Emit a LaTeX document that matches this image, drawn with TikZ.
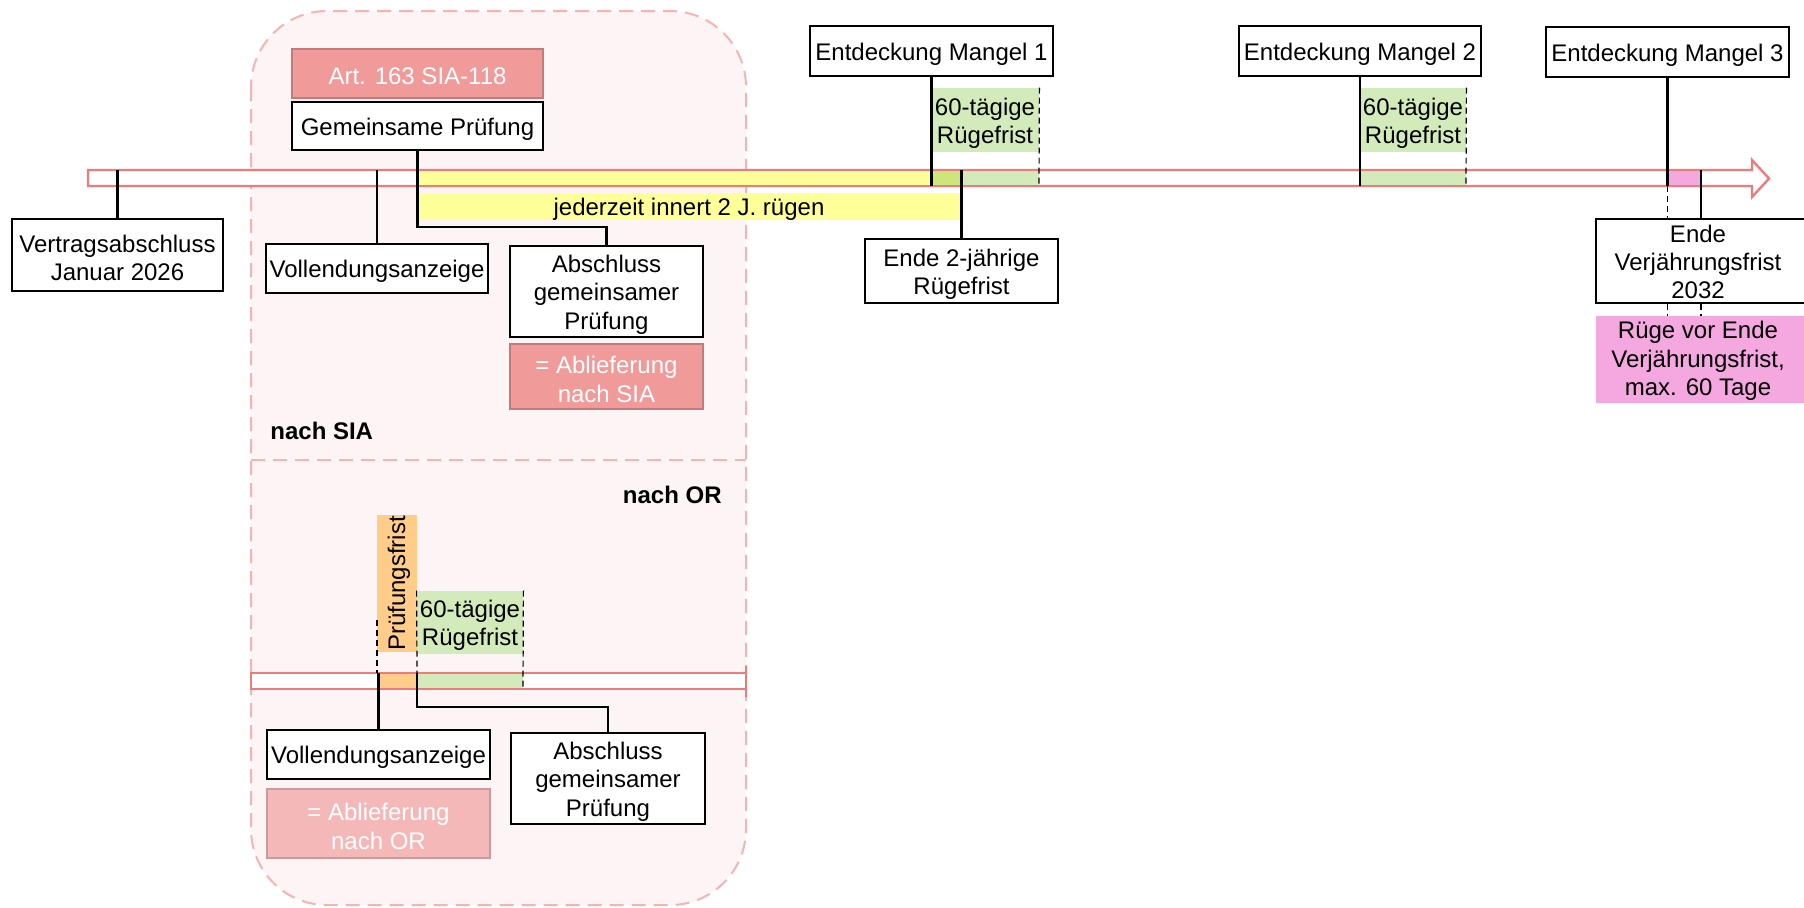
\documentclass[tikz,border=0pt]{standalone}
\usepackage{fontspec}
\setmainfont{Liberation Sans}
\definecolor{tl}{HTML}{EE7B7B}
\definecolor{contfill}{HTML}{FDF5F5}
\definecolor{contline}{HTML}{F5B3B3}
\definecolor{artfill}{HTML}{F09A9A}
\definecolor{artline}{HTML}{C27A7A}
\definecolor{orfill}{HTML}{F5B8B8}
\definecolor{orline}{HTML}{CC9A9A}
\definecolor{grn}{HTML}{D3EBBA}
\definecolor{ylw}{HTML}{FFFF99}
\definecolor{ylgr}{HTML}{CDE67C}
\definecolor{org}{HTML}{FFCC8A}
\definecolor{pnk}{HTML}{F5A8E0}
\newcommand\pxbox[7]{%
  \node[#2, minimum width={(#5-#3)*0.5pt}, minimum height={(#6-#4)*0.5pt}] (#1) at ({(#3+#5)/2},{(#4+#6)/2}) {};
  \node[#2, draw=none, fill=none, inner sep=0pt] (#1-t) at ({(#3+#5)/2},{(#4+#6)/2+3}) {#7};}
\begin{document}
\begin{tikzpicture}[x=0.5pt,y=-0.5pt,
  font=\fontsize{12}{14.2}\selectfont,
  bx/.style={draw=black, line width=1.2pt, fill=white, inner sep=0pt, align=center},
  artbx/.style={draw=artline, line width=1pt, fill=artfill, text=white, inner sep=0pt, align=center},
  orbx/.style={draw=orline, line width=1pt, fill=orfill, text=white, inner sep=0pt, align=center},
  fillbx/.style={inner sep=0pt, align=center},
  conn/.style={draw=black, line width=1.1pt},
  dsh/.style={draw=black, line width=0.6pt, dash pattern=on 3pt off 2pt},
  tline/.style={draw=tl, line width=1.2pt},
  bold/.style={font=\fontsize{12}{14}\selectfont\bfseries}]
\useasboundingbox (0,0) rectangle (1804,907);
% container
\draw[contline, fill=contfill, line width=1pt, dash pattern=on 7pt off 4pt, rounded corners=38pt] (251,11) rectangle (746,905);
\draw[contline, line width=1pt, dash pattern=on 7pt off 4pt] (251,460) -- (746,460);
% main timeline
\draw[tline, fill=white] (88,170) -- (1752,170) -- (1752,160) -- (1769,178.5) -- (1752,197) -- (1752,186) -- (88,186) -- cycle;
\fill[ylw] (417,171) rectangle (931,185);
\fill[ylgr] (931,171) rectangle (962,185);
\fill[grn] (962,171) rectangle (1039,185);
\fill[grn] (1360,171) rectangle (1466,185);
\fill[pnk] (1667,171) rectangle (1701,185);
% timeline coordinates
\coordinate (tVertrag) at (117.5,170);
\coordinate (tVoll) at (377,170);
\coordinate (tM1) at (931.5,186);
\coordinate (tD1) at (1039,186);
\coordinate (tE2) at (961.5,170);
\coordinate (tM2) at (1360,186);
\coordinate (tD2) at (1466,186);
\coordinate (tM3) at (1667.5,186);
\coordinate (tEV) at (1701,170);
% boxes SIA
\pxbox{vertrag}{bx}{12}{219}{223}{291}{Vertragsabschluss\\Januar 2026}
\pxbox{vollSIA}{bx}{266}{244}{488}{293}{Vollendungsanzeige}
\pxbox{art}{artbx}{292}{49}{543}{98}{Art. 163 SIA-118}
\pxbox{gem}{bx}{292}{102}{543}{150}{Gemeinsame Prüfung}
\pxbox{abSIA}{bx}{510}{246}{703}{337}{Abschluss\\gemeinsamer\\Prüfung}
\pxbox{abliefSIA}{artbx}{510}{344}{703}{409}{= Ablieferung\\nach SIA}
\pxbox{band}{fillbx, fill=ylw}{416}{193}{962}{220}{jederzeit innert 2 J. rügen}
\node[bold, anchor=west, inner sep=0pt] (nachSIA) at (270,431) {nach SIA};
% defects
\pxbox{m1}{bx}{810}{26}{1053}{76}{Entdeckung Mangel 1}
\pxbox{gr1}{fillbx, fill=grn}{931}{88}{1039}{152}{60-tägige\\Rügefrist}
\pxbox{ende2}{bx}{865}{239}{1058}{303}{Ende 2-jährige\\Rügefrist}
\pxbox{m2}{bx}{1239}{26}{1481}{76}{Entdeckung Mangel 2}
\pxbox{gr2}{fillbx, fill=grn}{1360}{88}{1466}{152}{60-tägige\\Rügefrist}
\pxbox{m3}{bx}{1546}{27}{1789}{77}{Entdeckung Mangel 3}
\pxbox{endeVbox}{bx}{1596}{219}{1812}{303}{}
\node[align=center, inner sep=0pt] (endeVtext) at (1698,262) {Ende\\Verjährungsfrist\\2032};
\pxbox{pinkbox}{fillbx, fill=pnk}{1596}{316}{1812}{403}{}
\node[align=center, inner sep=0pt] (pinktext) at (1698,361) {Rüge vor Ende\\Verjährungsfrist,\\max. 60 Tage};
% connectors main
\draw[conn] (tVertrag) -- (vertrag.north);
\draw[conn] (tVoll) -- (vollSIA.north);
\draw[conn] (gem.south) -- ++(0,76) -| (abSIA.north);
\draw[conn] (m1.south) -- (tM1);
\draw[dsh] (gr1.north east) -- (tD1);
\draw[conn] (tE2) -- (ende2.north);
\draw[conn] (m2.south) -- (tM2);
\draw[dsh] (gr2.north east) -- (tD2);
\draw[conn] (m3.south) -- (tM3);
\draw[dsh] (tM3) -- (tM3 |- endeVbox.north);
\draw[dsh] (tM3 |- endeVbox.south) -- (tM3 |- pinkbox.north);
\draw[conn, line width=1.4pt] (tEV) -- (tEV |- endeVbox.north);
\draw[dsh] (tEV |- endeVbox.south) -- (tEV |- pinkbox.north);
% OR section
\node[bold, anchor=east, inner sep=0pt] (nachOR) at (722,495) {nach OR};
\draw[tline, fill=white] (251,673) rectangle (746,689);
\draw[tline] (746,666) -- (746,697);
\fill[org] (377,674) rectangle (417,688);
\fill[grn] (417,674) rectangle (523,688);
\node[fillbx, fill=org, rotate=90, minimum width=68.5pt, minimum height=20pt] (prfg) at (397,583.5) {};
\node[fillbx, rotate=90] (prfg-t) at (399,583.5) {Prüfungsfrist};
\pxbox{gr3}{fillbx, fill=grn}{417}{591}{523}{654}{60-tägige\\Rügefrist}
\coordinate (oV) at (378.5,673);
\coordinate (oG) at (417,673);
\coordinate (oD) at (523,689);
\coordinate (oP) at (377,620);
\draw[dsh] (oP) -- (oP |- oV);
\draw[dsh] (gr3.north west) -- (oG);
\draw[dsh] (gr3.north east) -- (oD);
\pxbox{vollOR}{bx}{267}{730}{490}{779}{Vollendungsanzeige}
\pxbox{abliefOR}{orbx}{267}{789}{490}{858}{= Ablieferung\\nach OR}
\pxbox{abOR}{bx}{511}{733}{705}{824}{Abschluss\\gemeinsamer\\Prüfung}
\draw[conn] (oV) -- (vollOR.north);
\draw[conn] (oG) -- ++(0,34) -| (abOR.north);
\end{tikzpicture}
\end{document}
